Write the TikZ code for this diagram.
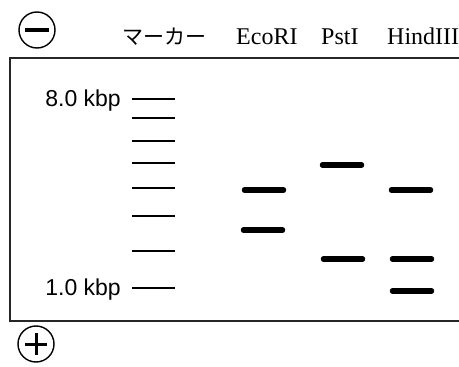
\documentclass[tikz,border=0pt]{standalone}
\usepackage{fontspec}
\setmainfont{Liberation Serif}
\newfontfamily\jpfont{Noto Sans CJK JP}
\newfontfamily\lsans{Liberation Sans}
\begin{document}
\begin{tikzpicture}[x=1pt,y=-1pt,
  band/.style={line width=5.5pt,line cap=round},
  mk/.style={line width=1.8pt},
  lane/.style={anchor=base west,inner sep=0pt,font=\fontsize{24}{24}\selectfont},
  kbp/.style={anchor=base east,inner sep=0pt,font=\lsans\fontsize{23}{23}\selectfont}]
\useasboundingbox (0,0) rectangle (459,367);
% gel box
\draw[line width=2pt,black!85] (461,58) -- (10,58) -- (10,321) -- (461,321);
% electrodes
\node[circle,draw,line width=1.4pt,minimum size=36pt,inner sep=0pt] (minus) at (37,30) {};
\draw[line width=4.5pt] (25,30) -- (49,30);
\node[circle,draw,line width=1.4pt,minimum size=36pt,inner sep=0pt] (plus) at (36,344) {};
\draw[line width=3pt] (25,344) -- (47,344) (36,333) -- (36,355);
% lane labels
\node[lane,font=\jpfont\fontsize{21}{21}\selectfont] (lm) at (122,44) {マーカー};
\node[lane] (le) at (236,44) {EcoRI};
\node[lane] (lp) at (321,44) {PstI};
\node[lane] (lh) at (387,44) {HindIII};
% size labels
\node[kbp] (k8) at (121,106) {8.0 kbp};
\node[kbp] (k1) at (121,295) {1.0 kbp};
% marker ladder
\foreach \y in {99,118,141,163,188,216,251,288}
  \draw[mk] (132,\y) -- (175,\y);
% EcoRI
\draw[band] (244.5,190) -- (283.5,190);
\draw[band] (243.5,230) -- (282.5,230);
% PstI
\draw[band] (322.5,165) -- (361.5,165);
\draw[band] (323.5,259) -- (362.5,259);
% HindIII
\draw[band] (391.5,190) -- (430.5,190);
\draw[band] (392.5,259) -- (431.5,259);
\draw[band] (392.5,291) -- (431.5,291);
\end{tikzpicture}
\end{document}
